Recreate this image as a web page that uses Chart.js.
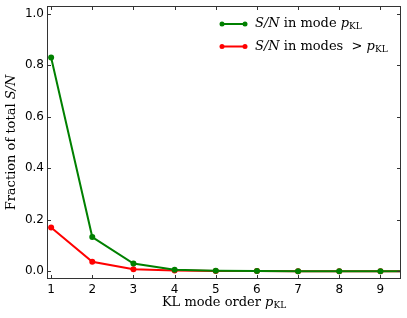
<!DOCTYPE html>
<html>
<head>
<meta charset="utf-8">
<script src="https://cdn.jsdelivr.net/npm/chart.js@4/dist/chart.umd.min.js"></script>
<style>
  html, body { margin: 0; padding: 0; background: #fff; }
  #wrap { width: 407px; height: 318px; }
</style>
</head>
<body>
<div id="wrap"><canvas id="snChart"></canvas></div>
<script>
const modes = [1, 2, 3, 4, 5, 6, 7, 8, 9, 10];
const snInMode = [0.83, 0.133, 0.030, 0.006, 0.002, 0.001, 0.0005, 0.0003, 0.0002, 0.0001];
const snAfterMode = [0.170, 0.037, 0.008, 0.003, 0.0012, 0.0006, 0.0004, 0.0002, 0.0001, 0.0001];
const xTicks = [1, 2, 3, 4, 5, 6, 7, 8, 9];
const yTicks = [0.0, 0.2, 0.4, 0.6, 0.8, 1.0];

const SERIF = '"DejaVu Serif", serif';

// draw a run of differently styled text pieces, returns width
function drawRuns(ctx, runs, x, y, measureOnly) {
    let w = 0;
    runs.forEach(r => {
        ctx.font = r.font;
        if (!measureOnly) ctx.fillText(r.text, x + w, y + (r.dy || 0));
        w += ctx.measureText(r.text).width;
    });
    return w;
}

const subKL = { text: 'KL', font: '9px ' + SERIF, dy: 3 };

const framePlugin = {
    id: 'frame',
    afterDraw(chart) {
        const { ctx, chartArea: a, scales } = chart;
        ctx.save();
        ctx.strokeStyle = '#333';
        ctx.lineWidth = 1;
        ctx.strokeRect(a.left + 0.5, a.top + 0.5, a.right - a.left - 1, a.bottom - a.top - 1);
        ctx.beginPath();
        xTicks.forEach(v => {
            const px = Math.round(scales.x.getPixelForValue(v)) + 0.5;
            ctx.moveTo(px, a.bottom); ctx.lineTo(px, a.bottom - 4);
            ctx.moveTo(px, a.top); ctx.lineTo(px, a.top + 4);
        });
        yTicks.forEach(v => {
            const py = Math.round(scales.y.getPixelForValue(v)) + 0.5;
            ctx.moveTo(a.left, py); ctx.lineTo(a.left + 4, py);
            ctx.moveTo(a.right, py); ctx.lineTo(a.right - 4, py);
        });
        ctx.stroke();

        // axis titles
        ctx.fillStyle = '#000';
        ctx.textBaseline = 'middle';
        const xRuns = [
            { text: 'KL mode order ', font: '13px ' + SERIF },
            { text: 'p', font: 'italic 13px ' + SERIF },
            subKL
        ];
        const xw = drawRuns(ctx, xRuns, 0, 0, true);
        drawRuns(ctx, xRuns, (a.left + a.right) / 2 - xw / 2, 303);

        const yRuns = [
            { text: 'Fraction of total ', font: '13px ' + SERIF },
            { text: 'S/N', font: 'italic 13px ' + SERIF }
        ];
        const yw = drawRuns(ctx, yRuns, 0, 0, true);
        ctx.save();
        ctx.translate(12, (a.top + a.bottom) / 2);
        ctx.rotate(-Math.PI / 2);
        drawRuns(ctx, yRuns, -yw / 2, 0);
        ctx.restore();

        // legend
        const items = [
            { color: '#008000', runs: [
                { text: 'S/N', font: 'italic 13px ' + SERIF },
                { text: ' in mode ', font: '13px ' + SERIF },
                { text: 'p', font: 'italic 13px ' + SERIF }, subKL ] },
            { color: '#ff0000', runs: [
                { text: 'S/N', font: 'italic 13px ' + SERIF },
                { text: ' in modes  > ', font: '13px ' + SERIF },
                { text: 'p', font: 'italic 13px ' + SERIF }, subKL ] }
        ];
        items.forEach((it, i) => {
            const y = 24 + i * 22.5;
            ctx.strokeStyle = it.color;
            ctx.fillStyle = it.color;
            ctx.lineWidth = 2;
            ctx.beginPath(); ctx.moveTo(222, y); ctx.lineTo(245, y); ctx.stroke();
            [222, 245].forEach(px => { ctx.beginPath(); ctx.arc(px, y, 2.5, 0, Math.PI * 2); ctx.fill(); });
            ctx.fillStyle = '#000';
            drawRuns(ctx, it.runs, 255, y);
        });
        ctx.restore();
    }
};

new Chart(document.getElementById('snChart'), {
    type: 'line',
    data: {
        datasets: [
            {
                label: 'S/N in mode p_KL',
                data: modes.map((m, i) => ({ x: m, y: snInMode[i] })),
                borderColor: '#008000',
                backgroundColor: '#008000',
                borderWidth: 2,
                pointRadius: 3,
                pointBorderWidth: 0,
                tension: 0
            },
            {
                label: 'S/N in modes > p_KL',
                data: modes.map((m, i) => ({ x: m, y: snAfterMode[i] })),
                borderColor: '#ff0000',
                backgroundColor: '#ff0000',
                borderWidth: 2,
                pointRadius: 3,
                pointBorderWidth: 0,
                tension: 0
            }
        ]
    },
    options: {
        responsive: true,
        maintainAspectRatio: false,
        animation: false,
        layout: { padding: { left: 0, right: 6, top: 6, bottom: 0 } },
        scales: {
            x: {
                type: 'linear',
                min: 0.9,
                max: 9.5,
                afterBuildTicks: s => { s.ticks = xTicks.map(v => ({ value: v })); },
                afterFit: s => { s.height = 39; s.paddingLeft = 0; s.paddingRight = 0; },
                grid: { display: false, drawTicks: false },
                border: { display: false },
                ticks: { color: '#000', padding: 4, font: { family: '"DejaVu Sans"', size: 12 } }
            },
            y: {
                min: -0.03,
                max: 1.03,
                afterBuildTicks: s => { s.ticks = yTicks.map(v => ({ value: v })); },
                afterFit: s => { s.width = 47; s.paddingTop = 0; s.paddingBottom = 0; },
                grid: { display: false, drawTicks: false },
                border: { display: false },
                ticks: { color: '#000', padding: 3, font: { family: '"DejaVu Sans"', size: 12 },
                    callback: v => v.toFixed(1) }
            }
        },
        plugins: {
            legend: { display: false },
            tooltip: { enabled: false }
        }
    },
    plugins: [framePlugin]
});
</script>
</body>
</html>
